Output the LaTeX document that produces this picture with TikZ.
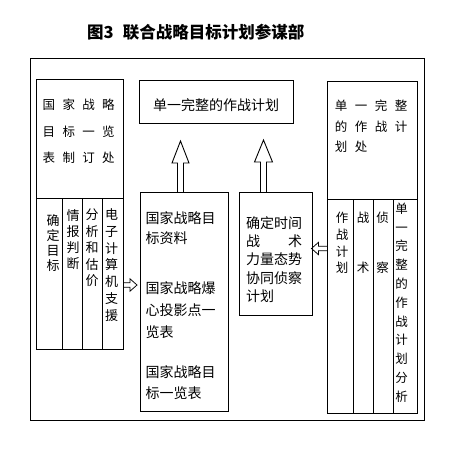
\documentclass[tikz,border=0pt]{standalone}
\usepackage{fontspec}
\setmainfont{Noto Sans CJK SC}
\usetikzlibrary{calc}
\newcommand\gp{\hspace{7.3pt}}
\newcommand\gq{\hspace{7.5pt}}
\begin{document}
\begin{tikzpicture}[x=1pt,y=-1pt,
  box/.style={draw, line width=0.9pt, inner sep=0pt, anchor=north west},
  txt/.style={inner sep=0pt, align=left, anchor=west},
  vcol/.style={inner sep=0pt, align=center},
  hollow/.style={line width=0.9pt, line join=miter},
  hollowsm/.style={line width=0.75pt, line join=miter},
  rule/.style={line width=0.9pt},
]
\fill[white] (0,0) rectangle (458,456);
\useasboundingbox (0,0) rectangle (458,456);

% title
\node[inner sep=0pt, anchor=west, font=\fontsize{16.5}{20}\selectfont\bfseries] (title) at (87,32.5) {图3\hspace{0.55em}联合战略目标计划参谋部};

% boxes
\node[box, minimum width=394pt, minimum height=362pt] (outer) at (30,58) {};
\node[box, minimum width=87pt, minimum height=270pt] (L) at (36,79) {};
\node[box, minimum width=154pt, minimum height=43pt] (T) at (139,80) {};
\node[box, minimum width=88pt, minimum height=219pt] (A) at (140,192) {};
\node[box, minimum width=73pt, minimum height=123pt] (B) at (239,192) {};
\node[box, minimum width=90pt, minimum height=332pt] (R) at (327,81) {};

% left box dividers
\draw[rule] (L.west |- 0,198) -- (L.east |- 0,198);
\draw[rule] (62,198) -- (62,0 |- L.south);
\draw[rule] (82,198) -- (82,0 |- L.south);
\draw[rule] (102,198) -- (102,0 |- L.south);

% right box dividers
\draw[rule] (R.west |- 0,199) -- (R.east |- 0,199);
\draw[rule] (353,199) -- (353,0 |- R.south);
\draw[rule] (373,199) -- (373,0 |- R.south);
\draw[rule] (393,199) -- (393,0 |- R.south);

% left box texts
\node[txt, font=\fontsize{12.5}{26.5}\selectfont] (Ltop) at (42.5,131.5) {国\gp{}家\gp{}战\gp{}略\\目\gp{}标\gp{}一\gp{}览\\表\gp{}制\gp{}订\gp{}处};
\node[vcol, font=\fontsize{13}{15}\selectfont] (Lc1) at (53,243) {确\\定\\目\\标};
\node[vcol, font=\fontsize{13}{16}\selectfont] (Lc2) at (73,240) {情\\报\\判\\断};
\node[vcol, font=\fontsize{13}{16.5}\selectfont] (Lc3) at (92,248) {分\\析\\和\\估\\价};
\node[vcol, font=\fontsize{13}{16.7}\selectfont] (Lc4) at (111.5,265) {电\\子\\计\\算\\机\\支\\援};

% top centre box text
\node[inner sep=0pt, font=\fontsize{14}{18}\selectfont] (Tt) at (216,105) {单一完整的作战计划};

% box A texts
\node[txt, font=\fontsize{14}{20}\selectfont] (A1) at (145.3,228) {国家战略目\\标资料};
\node[txt, font=\fontsize{14}{22}\selectfont] (A2) at (145.3,310) {国家战略爆\\心投影点一\\览表};
\node[txt, font=\fontsize{14}{21}\selectfont] (A3) at (145.3,382.5) {国家战略目\\标一览表};

% box B text
\node[txt, font=\fontsize{14}{18.25}\selectfont] (Bt) at (246,259.5) {确定时间\\战\hspace{28pt}术\\力量态势\\协同侦察\\计划};

% right box texts
\node[txt, font=\fontsize{12.5}{20.5}\selectfont] (Rtop) at (334.75,126.5) {单\gq{}一\gq{}完\gq{}整\\的\gq{}作\gq{}战\gq{}计\\划\gq{}处};
\node[vcol, font=\fontsize{12.5}{16.7}\selectfont] (Rc1) at (342,243) {作\\战\\计\\划};
\node[vcol, font=\fontsize{12.5}{50}\selectfont] (Rc2) at (363,243) {战\\术};
\node[vcol, font=\fontsize{12.5}{50}\selectfont] (Rc3) at (382.5,243) {侦\\察};
\node[vcol, font=\fontsize{12.5}{18.8}\selectfont] (Rc4) at (401.5,302.5) {单\\一\\完\\整\\的\\作\\战\\计\\划\\分\\析};

% arrow end points
\coordinate (u1b) at (180.5,192);
\coordinate (u1t) at (180.5,141);
\coordinate (u2b) at (263.5,192);
\coordinate (u2t) at (263.5,140);
\coordinate (ra1) at (123,285);
\coordinate (ra2) at (137,285);
\coordinate (la1) at (327,248.5);
\coordinate (la2) at (311.5,248.5);

% hollow up arrows
\draw[hollow] let \p1=(u1b), \p2=(u1t) in
  (\x1-3pt,\y1) -- (\x1-3pt,\y2-22pt) -- (\x1-8.5pt,\y2-22pt) -- (\x2,\y2)
  -- (\x1+8.5pt,\y2-22pt) -- (\x1+3pt,\y2-22pt) -- (\x1+3pt,\y1);
\draw[hollow] let \p1=(u2b), \p2=(u2t) in
  (\x1-3pt,\y1) -- (\x1-3pt,\y2-22pt) -- (\x1-9pt,\y2-22pt) -- (\x2,\y2)
  -- (\x1+9pt,\y2-22pt) -- (\x1+3pt,\y2-22pt) -- (\x1+3pt,\y1);

% small hollow side arrows
\draw[hollowsm] let \p1=(ra1), \p2=(ra2) in
  (\x1,\y1+2.3pt) -- (\x2-7pt,\y1+2.3pt) -- (\x2-7pt,\y1+6.2pt) -- (\x2,\y2)
  -- (\x2-7pt,\y1-6.2pt) -- (\x2-7pt,\y1-2.3pt) -- (\x1,\y1-2.3pt);
\draw[hollowsm] let \p1=(la1), \p2=(la2) in
  (\x1,\y1+2.3pt) -- (\x2+7pt,\y1+2.3pt) -- (\x2+7pt,\y1+6.2pt) -- (\x2,\y2)
  -- (\x2+7pt,\y1-6.2pt) -- (\x2+7pt,\y1-2.3pt) -- (\x1,\y1-2.3pt);
\end{tikzpicture}
\end{document}
